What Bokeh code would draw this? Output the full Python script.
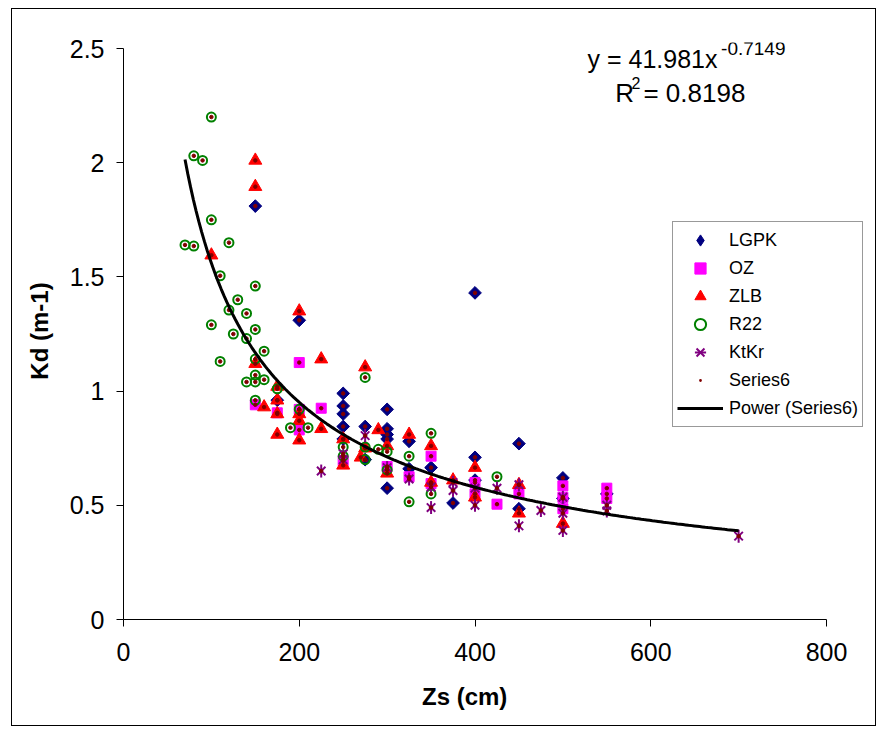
import numpy as np
from bokeh.plotting import figure
from bokeh.models import Legend, LegendItem, Label, FixedTicker
from bokeh.embed import file_html
from bokeh.resources import INLINE

# ---------------- data ----------------
lgpk_x = [150, 200, 400, 250, 250, 250, 250, 250, 275, 275, 300, 300, 300, 300, 300,
          325, 325, 350, 375, 400, 400, 450, 450, 500, 500, 175, 550]
lgpk_y = [1.81, 1.31, 1.43, 0.99, 0.935, 0.90, 0.845, 0.79, 0.845, 0.70, 0.92, 0.835, 0.81, 0.79, 0.575,
          0.78, 0.66, 0.665, 0.51, 0.71, 0.61, 0.77, 0.485, 0.62, 0.53, 0.96, 0.55]

oz_x = [200, 150, 175, 200, 200, 225, 250, 300, 325, 350, 350, 400, 400, 425, 450,
        500, 500, 500, 550, 550]
oz_y = [1.125, 0.94, 0.905, 0.92, 0.83, 0.925, 0.695, 0.67, 0.625, 0.715, 0.595, 0.60, 0.55, 0.505, 0.55,
        0.585, 0.535, 0.485, 0.575, 0.53]

zlb_x = [150, 150, 100, 200, 225, 275, 150, 160, 175, 175, 175, 175, 200, 200, 200, 225,
         250, 250, 270, 275, 290, 300, 300, 325, 350, 350, 375, 400, 400, 450, 450, 500]
zlb_y = [2.01, 1.895, 1.595, 1.35, 1.14, 1.105, 1.12, 0.93, 1.02, 0.96, 0.90, 0.81, 0.90, 0.87, 0.785, 0.835,
         0.79, 0.675, 0.71, 0.75, 0.83, 0.76, 0.64, 0.81, 0.76, 0.60, 0.61, 0.665, 0.535, 0.59, 0.465, 0.42]

r22_x = [100, 80, 90, 100, 70, 80, 120, 110, 150, 130, 120, 140, 100, 125, 150, 140, 160, 110,
         150, 150, 140, 150, 160, 175, 150, 200, 190, 210, 275, 250, 250, 275, 275, 290, 300, 300,
         325, 325, 350, 350, 425]
r22_y = [2.2, 2.03, 2.01, 1.75, 1.64, 1.635, 1.65, 1.505, 1.46, 1.40, 1.355, 1.34, 1.29, 1.25, 1.27, 1.23, 1.175, 1.13,
         1.14, 1.07, 1.04, 1.04, 1.05, 1.01, 0.96, 0.92, 0.84, 0.84, 1.06, 0.755, 0.715, 0.755, 0.70, 0.745, 0.735, 0.655,
         0.715, 0.515, 0.815, 0.55, 0.625]

ktkr_x = [225, 250, 250, 275, 300, 325, 350, 350, 375, 375, 400, 400, 425, 450, 450, 475,
          500, 500, 500, 550, 550, 700]
ktkr_y = [0.65, 0.725, 0.70, 0.805, 0.665, 0.615, 0.58, 0.49, 0.565, 0.60, 0.50, 0.575, 0.575, 0.59, 0.41, 0.477,
          0.535, 0.465, 0.39, 0.50, 0.475, 0.365]

# Series6 holds all points together
series6_x = lgpk_x + oz_x + zlb_x + r22_x + ktkr_x
series6_y = lgpk_y + oz_y + zlb_y + r22_y + ktkr_y

# power trendline fitted on Series6 (coefficients as printed on the chart)
fit_a = 41.981
fit_b = -0.7149
fit_r2 = 0.8198

x_ticks = [0, 200, 400, 600, 800]
x_tick_labels = ["0", "200", "400", "600", "800"]
y_ticks = [0, 0.5, 1, 1.5, 2, 2.5]
y_tick_labels = ["0", "0.5", "1", "1.5", "2", "2.5"]

FONT = "Liberation Sans"

# frame extends a little past the axes so the legend and the equation are not clipped
x_end = 800 * (872 - 123) / (826 - 123)
y_end = 2.5 * (619 - 42) / (619 - 48)

p = figure(width=865, height=718, output_backend="svg", toolbar_location=None,
           x_range=(0, x_end), y_range=(0, y_end),
           min_border_left=111, min_border_right=5, min_border_top=33, min_border_bottom=108)
p.styles = {"border": "1px solid black", "margin-left": "11px", "margin-top": "8px"}
p.xgrid.visible = False
p.ygrid.visible = False
p.outline_line_color = None
p.background_fill_color = "white"
p.border_fill_color = "white"

r1 = p.scatter(lgpk_x, lgpk_y, marker="square", size=9, angle=np.pi / 4,
               fill_color="#000080", line_color="#000080")
r2 = p.scatter(oz_x, oz_y, marker="square", size=10, fill_color="#FF00FF", line_color="#FF00FF")
r3 = p.scatter(zlb_x, zlb_y, marker="triangle", size=13, fill_color="#FF0000", line_color="#FF0000")
r4 = p.scatter(r22_x, r22_y, marker="circle", size=9, fill_color=None, line_color="#008000", line_width=2)
r5a = p.scatter(ktkr_x, ktkr_y, marker="x", size=12, line_color="#800080", line_width=2)
r5b = p.scatter(ktkr_x, ktkr_y, marker="dash", size=13, angle=np.pi / 2, line_color="#800080", line_width=2)
r6 = p.scatter(series6_x, series6_y, marker="circle", size=3.5, fill_color="#800000", line_color="#800000")

fx = np.linspace(min(series6_x), max(series6_x), 200)
fy = fit_a * fx ** fit_b
r7 = p.line(fx, fy, line_color="black", line_width=3)

# legend-only glyphs: one point placed off the visible ranges
off = dict(x=[-1000], y=[-1000])
l1 = p.scatter(marker="diamond", fill_color="#000080", line_color="#000080", **off)
l2 = p.scatter(marker="square", fill_color="#FF00FF", line_color="#FF00FF", **off)
l3 = p.scatter(marker="triangle", fill_color="#FF0000", line_color="#FF0000", **off)
l4 = p.scatter(marker="circle", fill_color=None, line_color="#008000", line_width=2, **off)
l5a = p.scatter(marker="x", line_color="#800080", line_width=2, **off)
l5b = p.scatter(marker="dash", angle=np.pi / 2, line_color="#800080", line_width=2, **off)
l6 = p.scatter(marker="dot", fill_color="#800000", line_color="#800000", **off)

# axes
for ax in (p.xaxis[0], p.yaxis[0]):
    ax.major_label_text_font = FONT
    ax.major_label_text_font_size = "25px"
    ax.major_label_text_color = "black"
    ax.axis_label_text_font = FONT
    ax.axis_label_text_font_size = "24px"
    ax.axis_label_text_font_style = "bold"
    ax.axis_label_text_color = "black"
    ax.minor_tick_line_color = None
    ax.major_tick_in = 0
    ax.major_tick_out = 7
    ax.axis_line_color = "black"
    ax.major_tick_line_color = "black"

p.xaxis.bounds = (0, 800)
p.yaxis.bounds = (0, 2.5)
p.xaxis.ticker = FixedTicker(ticks=x_ticks)
p.xaxis.major_label_overrides = {t: l for t, l in zip(x_ticks, x_tick_labels)}
p.yaxis.ticker = FixedTicker(ticks=y_ticks)
p.yaxis.major_label_overrides = {t: l for t, l in zip(y_ticks, y_tick_labels)}
# trailing no-break spaces pull the centred label back under the 0..800 part of the axis
p.xaxis.axis_label = "Zs (cm)" + "\u00a0" * 10
p.yaxis.axis_label = "Kd (m-1)"
p.xaxis.major_label_standoff = 16
p.yaxis.major_label_standoff = 12
p.xaxis.axis_label_standoff = 19
p.yaxis.axis_label_standoff = 14

# legend
legend = Legend(items=[
    LegendItem(label="LGPK", renderers=[l1]),
    LegendItem(label="OZ", renderers=[l2]),
    LegendItem(label="ZLB", renderers=[l3]),
    LegendItem(label="R22", renderers=[l4]),
    LegendItem(label="KtKr", renderers=[l5a, l5b]),
    LegendItem(label="Series6", renderers=[l6]),
    LegendItem(label="Power (Series6)", renderers=[r7]),
], location=(549, 192))
legend.label_text_font = FONT
legend.label_text_font_size = "18px"
legend.label_text_color = "black"
legend.glyph_width = 46
legend.glyph_height = 28
legend.label_height = 28
legend.spacing = 0
legend.padding = 4
legend.margin = 0
legend.label_standoff = 6
legend.border_line_color = "#333333"
legend.border_line_width = 1
legend.background_fill_color = "white"
legend.background_fill_alpha = 1
p.add_layout(legend)

# equation annotation
dy = 0.038
p.add_layout(Label(x=528, y=2.417 + dy, text="y = 41.981x", text_font=FONT, text_font_size="25px",
                   text_baseline="alphabetic", text_color="black"))
p.add_layout(Label(x=680, y=2.46 + dy, text=f"{fit_b}", text_font=FONT, text_font_size="19px",
                   text_baseline="alphabetic", text_color="black"))
p.add_layout(Label(x=559.7, y=2.265 + dy, text="R", text_font=FONT, text_font_size="26px",
                   text_baseline="alphabetic", text_color="black"))
p.add_layout(Label(x=578, y=2.309 + dy, text="2", text_font=FONT, text_font_size="16px",
                   text_baseline="alphabetic", text_color="black"))
p.add_layout(Label(x=591.7, y=2.265 + dy, text=f"= {fit_r2}", text_font=FONT, text_font_size="26px",
                   text_baseline="alphabetic", text_color="black"))

open("out.html", "w").write(file_html(p, INLINE))
